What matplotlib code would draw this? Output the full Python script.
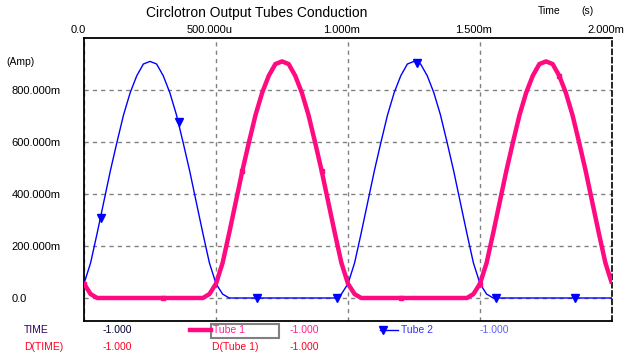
import matplotlib
matplotlib.use("Agg")
import matplotlib.pyplot as plt
import matplotlib.transforms as mtransforms
from matplotlib.lines import Line2D
from matplotlib.patches import Rectangle

plt.rcParams['font.family'] = ['Liberation Sans', 'DejaVu Sans']

# ---- datos (tiempo en ms, corriente en A) ----
tiempo = [i * 0.025 for i in range(81)]

tube1 = [0.055, 0.015,
         0, 0, 0, 0, 0, 0, 0, 0, 0, 0, 0, 0, 0, 0, 0, 0, 0,
         0.015,
         0.055, 0.135, 0.25, 0.37, 0.49, 0.60, 0.705, 0.79, 0.855, 0.90, 0.91,
         0.90, 0.855, 0.79, 0.705, 0.60, 0.49, 0.37, 0.25, 0.135, 0.055,
         0.015,
         0, 0, 0, 0, 0, 0, 0, 0, 0, 0, 0, 0, 0, 0, 0, 0, 0,
         0.015,
         0.055, 0.135, 0.25, 0.37, 0.49, 0.60, 0.705, 0.79, 0.855, 0.90, 0.91,
         0.90, 0.855, 0.79, 0.705, 0.60, 0.49, 0.37, 0.25, 0.135, 0.055]

tube2 = [0.055, 0.135, 0.25, 0.37, 0.49, 0.60, 0.705, 0.79, 0.855, 0.90, 0.91,
         0.90, 0.855, 0.79, 0.705, 0.60, 0.49, 0.37, 0.25, 0.135, 0.055,
         0.015,
         0, 0, 0, 0, 0, 0, 0, 0, 0, 0, 0, 0, 0, 0, 0, 0, 0,
         0.015,
         0.055, 0.135, 0.25, 0.37, 0.49, 0.60, 0.705, 0.79, 0.855, 0.90, 0.91,
         0.90, 0.855, 0.79, 0.705, 0.60, 0.49, 0.37, 0.25, 0.135, 0.055,
         0.015,
         0, 0, 0, 0, 0, 0, 0, 0, 0, 0, 0, 0, 0, 0, 0, 0, 0, 0, 0]

# marcadores (triangulos) de Tube 2
tube2_mark_t = [0.064, 0.361, 0.654, 0.96, 1.26, 1.56, 1.86]
tube2_mark_v = [0.306, 0.678, 0.0, 0.0, 0.905, 0.0, 0.0]

xticks = [0.0, 0.5, 1.0, 1.5, 2.0]
xlabels = ["0.0", "500.000u", "1.000m", "1.500m", "2.000m"]
yticks = [0.0, 0.2, 0.4, 0.6, 0.8]
ylabels = ["0.0", "200.000m", "400.000m", "600.000m", "800.000m"]

PINK = "#ff0a80"
BLUE = "#0000ff"
W, H = 636, 359


def px(x, y):
    # pixel -> coordenadas de figura
    return x / W, 1 - y / H


fig = plt.figure(figsize=(W / 100, H / 100), dpi=100)
ax = fig.add_axes([84 / W, 1 - 321 / H, 528 / W, 283 / H])

ax.plot(tiempo, tube2, color=BLUE, lw=1.0, zorder=3)
ax.plot(tube2_mark_t, tube2_mark_v, ls="none", marker="v", ms=5.5,
        color=BLUE, zorder=4)
ax.plot(tiempo, tube1, color=PINK, lw=3.2, marker="s", ms=3.5,
        markevery=12, zorder=5, solid_capstyle="butt")

ax.set_xlim(0, 2.0)
ax.set_ylim(-0.0885, 1.0)

ax.xaxis.tick_top()
ax.set_xticks(xticks)
ax.set_xticklabels(xlabels)
ax.set_yticks(yticks)
ax.set_yticklabels(ylabels)
ax.tick_params(axis="x", length=0, pad=2, labelsize=8)
ax.tick_params(axis="y", length=0, pad=52, labelsize=8)
for lab in ax.get_yticklabels():
    lab.set_horizontalalignment("left")
# en el original las etiquetas de arriba estan corridas un poco a la izquierda
shift = mtransforms.ScaledTranslation(-6 / 100, 0, fig.dpi_scale_trans)
for lab in ax.get_xticklabels():
    lab.set_transform(lab.get_transform() + shift)

ax.grid(True, color="#808080", ls=(0, (3, 3)), lw=1.0)
for s in ["left", "top", "bottom"]:
    ax.spines[s].set_linewidth(1.3)
ax.spines["right"].set_linestyle((0, (3, 2)))
ax.spines["right"].set_linewidth(1.2)

# textos superiores
fig.text(*px(257, 13), "Circlotron Output Tubes Conduction", ha="center",
         va="center", fontsize=10)
fig.text(*px(549, 11), "Time", ha="center", va="center", fontsize=7.5)
fig.text(*px(587, 11), "(s)", ha="center", va="center", fontsize=7.5)
fig.text(*px(6, 62), "(Amp)", ha="left", va="center", fontsize=7.5)

# leyenda inferior
fs = 7.5
fig.text(*px(24, 330), "TIME", ha="left", va="center", fontsize=fs, color="#300060")
fig.text(*px(103, 330), "-1.000", ha="left", va="center", fontsize=fs, color="#000030")
fig.text(*px(24, 347), "D(TIME)", ha="left", va="center", fontsize=fs, color="#ff0020")
fig.text(*px(103, 347), "-1.000", ha="left", va="center", fontsize=fs, color="#ff0020")

fig.add_artist(Line2D([190 / W, 211 / W], [1 - 330 / H] * 2, color=PINK, lw=3.2,
                      transform=fig.transFigure))
fig.add_artist(Rectangle(px(211, 338), 68 / W, 14 / H, fill=False,
                         edgecolor="#808080", lw=1.5, transform=fig.transFigure))
fig.text(*px(213, 330), "Tube 1", ha="left", va="center", fontsize=fs, color="#ff2090")
fig.text(*px(290, 330), "-1.000", ha="left", va="center", fontsize=fs, color="#ff2090")
fig.text(*px(212, 347), "D(Tube 1)", ha="left", va="center", fontsize=fs, color="#ff0020")
fig.text(*px(290, 347), "-1.000", ha="left", va="center", fontsize=fs, color="#ff0020")

fig.add_artist(Line2D([380 / W, 398 / W], [1 - 330 / H] * 2, color=BLUE, lw=1.0,
                      transform=fig.transFigure))
fig.add_artist(Line2D([383 / W], [1 - 330 / H], color=BLUE, marker="v", ms=5.5,
                      transform=fig.transFigure))
fig.text(*px(401, 330), "Tube 2", ha="left", va="center", fontsize=fs, color="#3030ff")
fig.text(*px(480, 330), "-1.000", ha="left", va="center", fontsize=fs, color="#6060ff")

fig.savefig("out.png", dpi=100)
